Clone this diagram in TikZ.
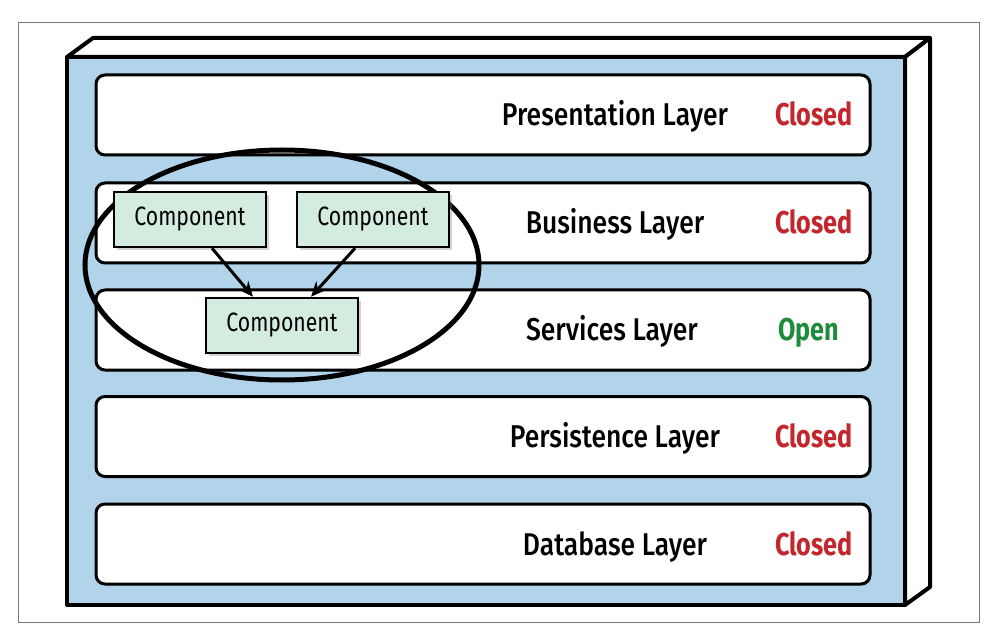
\documentclass[tikz,border=0pt]{standalone}
\usepackage{fontspec}
\setmainfont{Fira Sans}[FakeStretch=0.8]
\newfontfamily\medfont{Fira Sans Medium}[FakeStretch=0.84]
\usetikzlibrary{shapes.geometric,arrows.meta,calc,shadows}
\definecolor{boxblue}{HTML}{B1D4EA}
\definecolor{compgreen}{HTML}{D4EBDF}
\definecolor{closedred}{HTML}{C1272D}
\definecolor{opengreen}{HTML}{1E8C3A}
\definecolor{framegray}{HTML}{777777}
\begin{document}
\begin{tikzpicture}[x=1pt,y=-1pt,
  frontface/.style={fill=boxblue, draw=black, line width=4pt, line join=round},
  sideface/.style={fill=white, draw=black, line width=4pt, line join=round},
  layerbox/.style={draw=black, fill=white, line width=3pt, rounded corners=9pt,
    minimum width=774pt, minimum height=80pt, inner sep=0pt,
    drop shadow={shadow xshift=1.5pt, shadow yshift=-1.5pt, opacity=0.3}},
  lab/.style={font=\medfont\fontsize{31.5}{33}\selectfont, inner sep=0pt, anchor=base},
  stat/.style={font=\fontsize{31.5}{33}\selectfont\bfseries, inner sep=0pt, anchor=base west},
  comp/.style={draw=black, fill=compgreen, line width=2.5pt, minimum width=152pt,
    minimum height=55pt, inner sep=0pt, font=\fontsize{26.5}{28}\selectfont,
    drop shadow={shadow xshift=3pt, shadow yshift=-3pt, opacity=0.35}},
  link/.style={line width=3pt, -{Stealth[length=15pt,width=13pt]}}
]
\useasboundingbox (0,0) rectangle (996,636);
% outer frame
\draw[framegray, line width=1pt] (18,23) rectangle (979,622);
% 3D box
\path[frontface] (67,57) rectangle (905,605);
\path[sideface] (67,57) -- (93,38) -- (930,38) -- (905,57) -- cycle;
\path[sideface] (905,57) -- (930,38) -- (930,587) -- (905,605) -- cycle;
% layers
\node[layerbox] (l1) at (483,115) {};
\node[layerbox] (l2) at (483,223) {};
\node[layerbox] (l3) at (483,330) {};
\node[layerbox] (l4) at (483,436.5) {};
\node[layerbox] (l5) at (483,544) {};
% layer labels
\node[lab] (t1) at (615,126) {Presentation Layer};
\node[lab] (t2) at (615,234) {Business Layer};
\node[lab] (t3) at (612,341) {Services Layer};
\node[lab] (t4) at (615,447.5) {Persistence Layer};
\node[lab] (t5) at (615,555) {Database Layer};
\node[stat, text=closedred] (s1) at (775,126) {Closed};
\node[stat, text=closedred] (s2) at (775,234) {Closed};
\node[stat, text=opengreen] (s3) at (778,341) {Open};
\node[stat, text=closedred] (s4) at (775,447.5) {Closed};
\node[stat, text=closedred] (s5) at (775,555) {Closed};
% group ellipse
\node[ellipse, draw=black, line width=5pt, minimum width=394pt, minimum height=230pt, inner sep=0pt] (grp) at (282,265) {};
% components
\node[comp] (c1) at (190,219.5) {Component};
\node[comp] (c2) at (373,219.5) {Component};
\node[comp] (c3) at (282,325.5) {Component};
\draw[link] ($(c1.south)+(22,0)$) -- ($(c3.north)+(-29,0)$);
\draw[link] ($(c2.south)+(-18,0)$) -- ($(c3.north)+(29,0)$);
\end{tikzpicture}
\end{document}
